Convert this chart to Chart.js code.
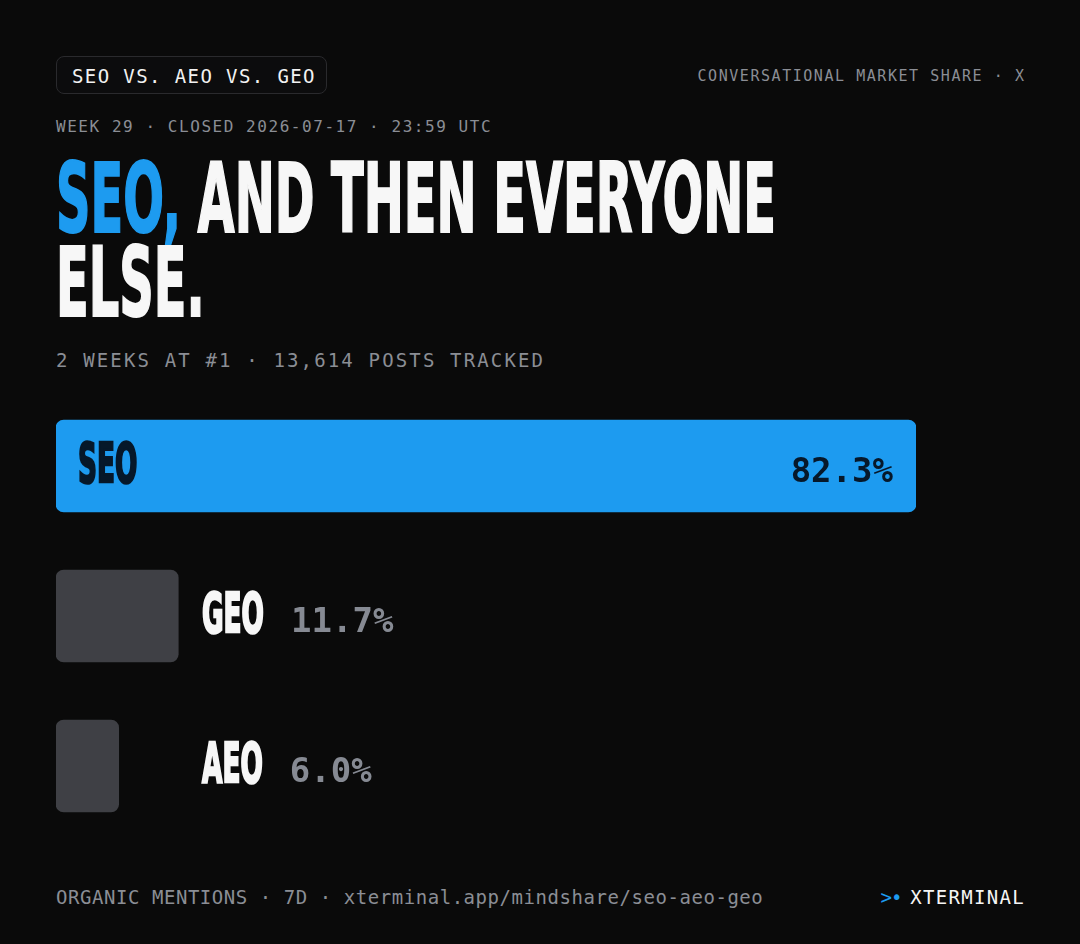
<!DOCTYPE html>
<html><head><meta charset="utf-8">
<script src="https://cdn.jsdelivr.net/npm/chart.js@4/dist/chart.umd.min.js"></script>
<style>
html,body{margin:0;padding:0;background:#0a0a0a;}
#wrap{position:relative;width:1080px;height:944px;background:#0a0a0a;overflow:hidden;font-family:"DejaVu Sans Mono","Liberation Mono",monospace;}
.abs{position:absolute;white-space:nowrap;line-height:1;}
#pill{left:56px;top:56px;width:269px;height:36px;border:1px solid #2a2a2d;border-radius:8px;background:#0c0c0d;}
#pilltxt{left:72px;top:67px;font-size:19px;letter-spacing:1.4px;color:#f2f2f2;}
#rhead{right:54.5px;top:69.3px;font-size:15px;letter-spacing:1.55px;color:#8b8e95;}
#week{left:56px;top:118.5px;font-size:16px;letter-spacing:1.55px;color:#8b8e95;}
.tline{position:absolute;left:56px;white-space:nowrap;font-family:"DejaVu Sans Condensed","DejaVu Sans",sans-serif;font-stretch:condensed;font-weight:700;font-size:96px;line-height:84px;color:#f7f7f7;transform-origin:0 0;-webkit-text-stroke:2px #f7f7f7;}
#t1{top:156.8px;}
#t2{top:240.8px;}
.blue{color:#1d9bf0;-webkit-text-stroke:2px #1d9bf0;}
#sub{left:56px;top:351px;font-size:19px;letter-spacing:2.15px;color:#8b8e95;}
#chartbox{position:absolute;left:0;top:391px;width:1080px;height:450px;}
#foot{left:56px;top:888px;font-size:19px;letter-spacing:0.55px;color:#8b8e95;}
#brand{right:55px;top:888px;font-size:19px;color:#f5f5f5;}
#brand .b{color:#1d9bf0;letter-spacing:-1px;margin-right:9px;}
#brand .x{letter-spacing:1.3px;}
</style></head>
<body>
<div id="wrap">
  <div id="pill" class="abs"></div>
  <div id="pilltxt" class="abs">SEO VS. AEO VS. GEO</div>
  <div id="rhead" class="abs">CONVERSATIONAL MARKET SHARE · X</div>
  <div id="week" class="abs">WEEK 29 · CLOSED 2026-07-17 · 23:59 UTC</div>
  <div id="t1" class="tline"><span class="blue">SEO,</span> AND THEN EVERYONE</div>
  <div id="t2" class="tline">ELSE.</div>
  <div id="sub" class="abs">2 WEEKS AT #1 · 13,614 POSTS TRACKED</div>
  <div id="chartbox"><canvas id="c"></canvas></div>
  <div id="foot" class="abs">ORGANIC MENTIONS · 7D · xterminal.app/mindshare/seo-aeo-geo</div>
  <div id="brand" class="abs"><span class="b">&gt;•</span><span class="x">XTERMINAL</span></div>
</div>
<script>
const categories = ['SEO', 'GEO', 'AEO'];
const shares = [82.3, 11.7, 6.0];
const valueLabels = ['82.3%', '11.7%', '6.0%'];

// fit title width
(function(){
  const t1 = document.getElementById('t1'), t2 = document.getElementById('t2');
  const w = t1.getBoundingClientRect().width;
  const s = 720 / w;
  t1.style.transform = 'scaleX(' + s + ')';
  t2.style.transform = 'scaleX(' + s + ')';
})();

const leader = shares.indexOf(Math.max(...shares));
const BLUE = '#1d9bf0', GRAY = '#3f4045', DARK = '#06182a';
const condFont = 'bold 55px "DejaVu Sans Condensed","DejaVu Sans",sans-serif';
const monoFont = 'bold 34px "DejaVu Sans Mono","Liberation Mono",monospace';

const labelPlugin = {
  id: 'barLabels',
  afterDatasetsDraw(chart) {
    const ctx = chart.ctx;
    const meta = chart.getDatasetMeta(0);
    const left = chart.chartArea.left;
    meta.data.forEach((bar, i) => {
      const base = bar.base, right = bar.x, cy = bar.y;
      const baseline = cy + 16;
      ctx.save();
      ctx.font = condFont;
      const rawW = ctx.measureText('GEO').width;
      const sx = 62 / rawW;
      const labW = ctx.measureText(categories[i]).width * sx;
      const inside = (right - base) > 300;
      const lx = inside ? base + 22 : left + 146;
      const col = inside ? DARK : '#f7f7f7';
      ctx.save();
      ctx.translate(lx, baseline);
      ctx.scale(sx, 1);
      ctx.fillStyle = col; ctx.strokeStyle = col; ctx.lineWidth = 2.5;
      ctx.textBaseline = 'alphabetic'; ctx.textAlign = 'left';
      ctx.fillText(categories[i], 0, 0);
      ctx.strokeText(categories[i], 0, 0);
      ctx.restore();
      ctx.font = monoFont;
      ctx.textBaseline = 'alphabetic';
      if (inside) {
        ctx.textAlign = 'right';
        ctx.fillStyle = DARK;
        ctx.fillText(valueLabels[i], right - 23, baseline);
      } else {
        ctx.textAlign = 'left';
        ctx.fillStyle = '#868a93';
        ctx.fillText(valueLabels[i], lx + labW + 27, baseline);
      }
      ctx.restore();
    });
  }
};

new Chart(document.getElementById('c'), {
  type: 'bar',
  data: {
    labels: categories,
    datasets: [{
      data: shares,
      backgroundColor: (c) => c.dataIndex === leader ? BLUE : GRAY,
      borderRadius: 8,
      borderSkipped: false,
      barThickness: 92
    }]
  },
  options: {
    indexAxis: 'y',
    responsive: true,
    maintainAspectRatio: false,
    animation: false,
    layout: { padding: { left: 56, right: 164, top: 0, bottom: 0 } },
    scales: {
      x: { display: false, min: 0, max: Math.max(...shares) },
      y: { display: false }
    },
    plugins: { legend: { display: false }, tooltip: { enabled: false } }
  },
  plugins: [labelPlugin]
});
</script>
</body></html>
